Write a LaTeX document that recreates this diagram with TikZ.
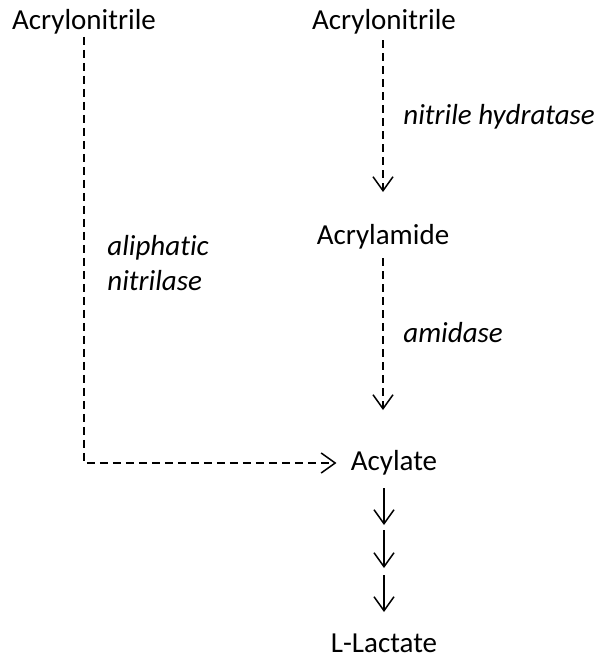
\documentclass[tikz,border=0pt]{standalone}
\usepackage{fontspec}
\setmainfont{Carlito}[Ligatures={NoCommon}]
\usetikzlibrary{arrows.meta,positioning}

\begin{document}
\begin{tikzpicture}[x=0.5pt,y=-0.5pt,
    chem/.style={font=\fontsize{14.5}{17.5}\selectfont, inner sep=1pt},
    enz/.style={font=\fontsize{14.5}{17.5}\selectfont\itshape, inner sep=0pt, align=left},
    dasharrow/.style={dash pattern=on 4pt off 2.5pt, line width=0.75pt,
        -{Straight Barb[length=7pt,width=10pt,line width=0.75pt]}},
    solidarrow/.style={line width=0.75pt,
        -{Straight Barb[length=7pt,width=10pt,line width=0.75pt]}}]
    \useasboundingbox (0,0) rectangle (602,659);

    % compounds
    \node[chem] (nitL) at (84,22) {Acrylonitrile};
    \node[chem] (nitR) at (384,22) {Acrylonitrile};
    \node[chem] (amide) at (383,237) {Acrylamide};
    \node[chem] (acyl) at (394,463) {Acylate};
    \node[chem] (lact) at (384,643) {L-Lactate};

    % enzymes
    \node[enz, anchor=west] (hyd) at (403,117) {nitrile hydratase};
    \node[enz, anchor=west] (ami) at (403,333) {amidase};
    \node[enz, anchor=west] (ali) at (107,263) {aliphatic\\nitrilase};

    % two-step route
    \coordinate (t1) at (383,40);
    \coordinate (t2) at (383,192);
    \coordinate (t3) at (383,258);
    \coordinate (t4) at (383,410);
    \draw[dasharrow] (t1) -- (t2);
    \draw[dasharrow] (t3) -- (t4);

    % direct route
    \draw[dasharrow, shorten >=6pt] (nitL.south) |- (acyl.west);

    % to lactate
    \foreach \i/\ya/\yb in {1/488/525,2/530/568,3/575/612}{
        \coordinate (s\i a) at (384,\ya);
        \coordinate (s\i b) at (384,\yb);
        \draw[solidarrow] (s\i a) -- (s\i b);
    }
\end{tikzpicture}
\end{document}
